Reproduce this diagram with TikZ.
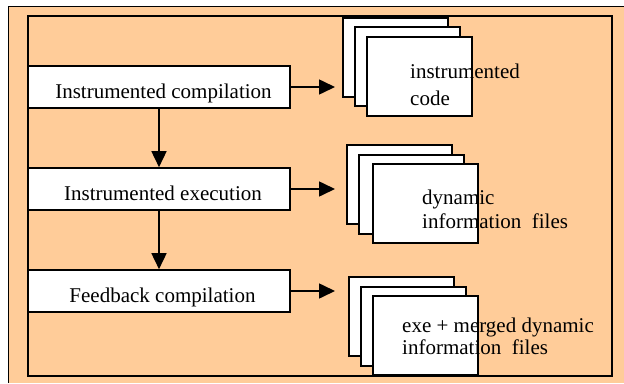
\documentclass[tikz,border=0pt]{standalone}
\usepackage{fontspec}
\setmainfont{Liberation Serif}
\usetikzlibrary{arrows.meta}
\definecolor{peach}{RGB}{255,204,153}
\tikzset{
  stage/.style={draw, fill=white, line width=1.6pt, minimum width=262pt, minimum height=42pt,
    inner sep=0pt},
  stagetext/.style={anchor=base, inner sep=0pt, font=\fontsize{21}{24}\selectfont},
  page/.style={draw, fill=white, line width=1.6pt, minimum width=105pt, minimum height=79pt,
    inner sep=0pt, anchor=north west},
  pagetext/.style={anchor=north west, inner sep=0pt, align=left},
  flow/.style={line width=1.6pt, -{Triangle[length=16pt,width=15pt]}},
}
\begin{document}
\begin{tikzpicture}[x=1pt,y=-1pt]
  \useasboundingbox (0,0) rectangle (624,383);
  % background panel and frames
  \fill[peach] (8,6) rectangle (624,383);
  \draw[line width=1pt] (8,383) -- (8,6) -- (624,6);
  \draw[line width=1.8pt] (28,16) rectangle (612,376);

  % process stages
  \node[stage] (comp) at (159,87) {};
  \node[stage] (exec) at (159,189) {};
  \node[stage] (fdbk) at (159,291) {};
  \node[stagetext] (compt) at (163.5,98) {Instrumented compilation};
  \node[stagetext] (exect) at (163,200) {Instrumented execution};
  \node[stagetext] (fdbkt) at (162.5,302) {Feedback compilation};

  % stacked output pages
  \node[page] (c1) at (342,17) {};
  \node[page] (c2) at (354,26) {};
  \node[page] (c3) at (366,36) {};
  \node[pagetext, font=\fontsize{21}{27}\selectfont] (ct) at (410,64) {instrumented\\code};

  \node[page] (d1) at (346,144) {};
  \node[page] (d2) at (358,154) {};
  \node[page] (d3) at (372,163) {};
  \node[pagetext, font=\fontsize{21}{24}\selectfont] (dt) at (422,190) {dynamic\\information\ \ files};

  \node[page] (e1) at (348,276) {};
  \node[page] (e2) at (360,286) {};
  \node[page] (e3) at (372,295) {};
  \node[pagetext, font=\fontsize{21}{22}\selectfont] (et) at (402,318) {exe + merged dynamic\\information\ \ files};

  % control flow between stages
  \draw[flow] (comp.south) -- (exec.north);
  \draw[flow] (exec.south) -- (fdbk.north);

  % outputs of each stage
  \draw[flow, shorten >=7pt] (comp.east) -- (comp.east -| c1.west);
  \draw[flow, shorten >=11pt] (exec.east) -- (exec.east -| d1.west);
  \draw[flow, shorten >=13pt] (fdbk.east) -- (fdbk.east -| e1.west);
\end{tikzpicture}
\end{document}
